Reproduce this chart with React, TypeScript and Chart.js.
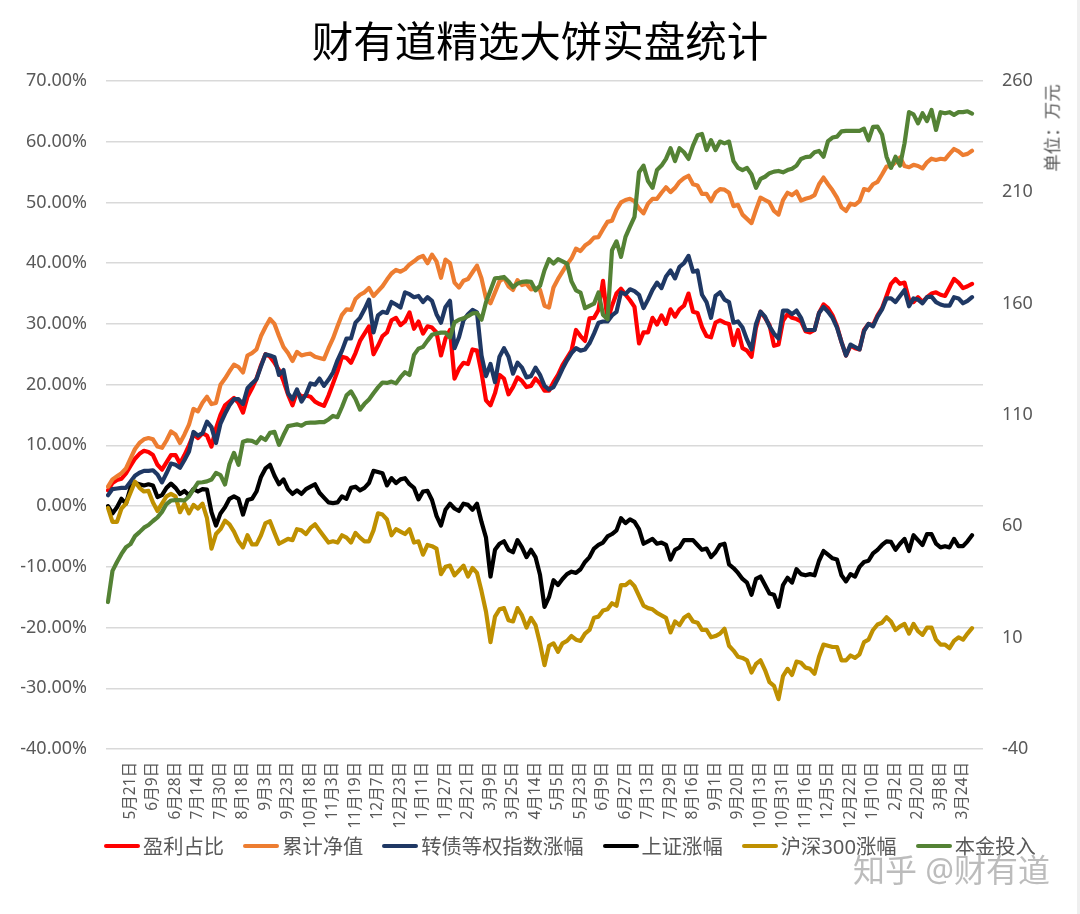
import React, { useEffect, useRef } from 'react';
import { Chart, registerables } from 'chart.js';

Chart.register(...registerables);

const FONT = '"Noto Sans", "Noto Sans CJK SC", sans-serif';

const tickLabels = [
  '5月21日', '6月9日', '6月28日', '7月14日', '7月30日', '8月18日', '9月3日', '9月23日',
  '10月18日', '11月3日', '11月19日', '12月7日', '12月23日', '1月11日', '1月27日', '2月21日',
  '3月9日', '3月25日', '4月14日', '5月5日', '5月23日', '6月9日', '6月27日', '7月13日',
  '7月29日', '8月16日', '9月1日', '9月20日', '10月13日', '10月31日', '11月16日', '12月5日',
  '12月22日', '1月10日', '2月2日', '2月20日', '3月8日', '3月24日',
];

const profitShare = [
  2.6, 3.8, 4.3, 4.5, 5.4, 6.6, 7.8, 8.6, 9.1, 8.9,
  8.4, 6.8, 6.0, 7.2, 8.4, 8.4, 7.0, 8.4, 10.0, 11.8,
  11.2, 12.0, 11.6, 9.8, 12.8, 15.0, 16.6, 17.2, 17.8, 17.0,
  15.4, 18.0, 19.4, 21.0, 23.2, 25.0, 24.6, 23.6, 22.4, 20.6,
  18.4, 16.6, 18.8, 18.0, 18.2, 18.0, 17.2, 16.8, 16.5, 18.2,
  20.2, 22.2, 24.6, 24.4, 23.6, 25.2, 27.2, 28.4, 29.6, 25.0,
  26.4, 28.0, 28.6, 30.6, 31.0, 29.8, 30.4, 31.9, 29.2, 30.4,
  28.4, 29.6, 29.4, 28.6, 24.8, 27.6, 29.0, 21.0, 22.6, 23.6,
  23.4, 25.8, 25.6, 22.0, 17.4, 16.6, 18.6, 21.6, 21.0, 18.4,
  19.6, 21.2, 20.6, 19.6, 19.8, 21.0, 20.2, 19.0, 19.0, 20.4,
  21.6, 23.2, 24.4, 25.6, 29.0, 28.0, 27.2, 30.9, 31.0, 32.3,
  37.1, 30.5, 33.0, 35.0, 35.8, 34.8, 33.9, 32.8, 26.8, 28.6,
  28.6, 31.0, 29.9, 31.4, 30.0, 32.4, 31.2, 32.4, 33.0, 35.0,
  32.0, 31.8, 29.5, 28.0, 27.8, 30.2, 30.6, 30.2, 30.0, 26.5,
  29.0, 26.0, 25.6, 24.6, 29.4, 32.0, 31.0, 29.8, 26.4, 26.6,
  30.5, 31.6, 31.0, 30.8, 30.4, 28.8, 28.6, 29.0, 31.8, 33.2,
  32.6, 31.4, 29.6, 27.0, 24.8, 26.4, 26.0, 25.8, 29.0, 30.0,
  29.8, 31.4, 32.6, 34.6, 36.6, 37.4, 36.6, 36.8, 34.0, 33.6,
  34.4, 33.6, 34.4, 35.0, 35.2, 34.8, 34.6, 36.0, 37.4, 36.8,
  35.9, 36.2, 36.6,
];

const netValue = [
  3.2, 4.4, 4.9, 5.4, 6.2, 7.8, 9.4, 10.4, 11.0, 11.2,
  11.0, 9.8, 9.6, 10.8, 12.3, 11.8, 10.4, 11.8, 13.4, 16.0,
  15.6, 17.0, 18.0, 16.8, 17.0, 20.0, 21.0, 22.2, 23.3, 22.9,
  22.0, 24.8, 25.2, 25.8, 28.0, 29.5, 30.8, 30.0, 28.0, 26.2,
  25.2, 23.9, 25.4, 24.8, 25.0, 25.1, 24.6, 24.4, 24.2, 26.0,
  27.6, 29.6, 31.5, 32.4, 32.3, 34.1, 34.8, 35.2, 35.9, 34.6,
  35.4, 36.2, 37.3, 38.3, 38.9, 38.6, 39.0, 39.8, 40.3, 40.9,
  41.2, 40.0, 41.4, 40.3, 37.6, 40.6, 40.0, 36.8, 36.0, 37.1,
  37.4, 38.5, 39.6, 37.5, 34.2, 33.4, 35.2, 37.0, 37.6, 36.2,
  35.6, 37.2, 36.4, 36.6, 35.7, 35.8, 35.6, 33.0, 32.7, 36.0,
  37.4, 38.6, 39.8, 40.8, 42.4, 42.0, 42.9, 43.4, 44.2, 44.3,
  45.6, 46.8, 47.0, 48.8, 50.0, 50.4, 50.6, 50.2, 49.0, 48.2,
  49.8, 50.6, 50.6, 51.6, 52.5, 51.7, 52.4, 53.4, 54.0, 54.4,
  53.0, 52.8, 51.4, 51.4, 50.2, 51.6, 52.2, 52.1, 51.6, 49.4,
  49.6, 48.0, 47.3, 46.6, 48.8, 50.8, 50.4, 50.0, 48.6, 48.0,
  50.4, 51.6, 51.2, 51.8, 50.3, 50.6, 50.8, 51.2, 53.0, 54.1,
  53.0, 52.0, 50.8, 49.2, 48.6, 49.8, 49.6, 50.2, 52.2, 52.0,
  53.0, 53.4, 54.6, 55.9, 56.0, 56.6, 57.4, 56.0, 55.8, 56.2,
  56.0, 55.6, 56.6, 57.2, 57.0, 57.2, 57.1, 58.0, 58.8, 58.4,
  57.8, 58.0, 58.5,
];

const bondIndex = [
  1.8, 2.8, 2.9, 3.0, 3.0, 4.0, 5.0, 5.5, 5.8, 5.8,
  5.9, 5.2, 3.9, 5.4, 7.0, 6.8, 6.3, 7.6, 9.0, 12.2,
  11.6, 12.0, 13.9, 13.0, 10.4, 13.6, 15.2, 16.6, 17.6, 17.6,
  16.8, 19.4, 20.2, 20.9, 23.0, 25.0, 24.8, 24.5, 21.6, 22.4,
  18.6, 17.6, 19.2, 17.2, 18.4, 20.2, 20.0, 21.0, 19.8, 20.8,
  22.0, 24.0, 25.6, 27.6, 27.6, 30.2, 31.0, 32.4, 34.0, 28.6,
  31.4, 32.0, 31.8, 33.6, 33.2, 32.7, 35.2, 34.9, 34.4, 34.6,
  33.6, 34.4, 33.8, 31.6, 30.2, 32.8, 33.8, 26.0, 27.8, 30.6,
  31.6, 32.3, 31.9, 24.8, 21.4, 23.4, 20.4, 24.6, 26.0, 24.6,
  21.8, 23.6, 22.8, 21.2, 21.4, 22.8, 21.6, 19.8, 19.2, 19.6,
  21.0, 22.6, 24.0, 25.2, 26.0, 25.6, 25.8, 26.8, 28.4, 30.2,
  30.4, 30.4, 31.4, 32.0, 35.2, 34.9, 35.7, 35.4, 34.8, 32.6,
  34.0, 35.6, 36.8, 35.9, 37.8, 38.8, 37.5, 39.4, 40.0, 41.2,
  38.6, 38.8, 34.8, 33.6, 31.0, 34.6, 35.2, 34.0, 33.6, 30.2,
  30.4, 29.4, 27.4, 25.8, 30.0, 32.0, 31.2, 29.6, 28.4, 27.6,
  32.2, 32.2, 31.6, 32.2, 31.0, 29.0, 29.0, 29.0, 31.8, 32.8,
  32.0, 31.0, 29.4, 27.0, 24.8, 26.6, 26.2, 25.8, 28.8, 30.0,
  29.6, 31.2, 32.4, 34.2, 34.2, 33.6, 34.6, 35.6, 32.9, 34.2,
  34.0, 33.4, 34.4, 34.5, 33.6, 33.2, 33.0, 33.0, 34.4, 34.2,
  33.4, 33.8, 34.4,
];

const shanghai = [
  0.0, -1.2, -0.2, 1.2, 0.4, 3.0, 3.8, 3.6, 3.4, 3.6,
  3.4, 1.5, 1.8, 3.0, 3.7, 3.0, 2.0, 2.5, 1.8, 2.8,
  2.4, 2.8, 2.7, -1.0, -3.2, -1.2, -0.2, 1.2, 1.6, 1.2,
  -1.4, 1.0, 1.2, 2.4, 4.8, 6.2, 6.8, 5.0, 3.6, 4.4,
  2.8, 2.0, 2.6, 2.0, 2.8, 3.2, 3.6, 2.2, 1.4, 0.6,
  0.5, 0.6, 1.6, 1.2, 3.0, 3.2, 2.6, 3.0, 3.8, 5.8,
  5.6, 5.4, 3.4, 4.6, 3.8, 4.4, 4.6, 3.6, 3.0, 1.1,
  2.4, 2.5, 1.0, -1.6, -3.2, -0.6, 0.4, -0.4, -0.8, 0.4,
  0.2, -0.6, 0.4, -2.6, -5.2, -11.6, -7.2, -6.2, -5.8, -7.2,
  -7.6, -5.6, -6.8, -8.4, -7.2, -8.4, -11.3, -16.6, -15.0, -12.2,
  -13.0, -12.0, -11.2, -10.8, -11.0, -10.4, -9.2, -8.4, -7.0, -6.4,
  -6.0, -5.0, -4.6, -4.0, -2.0, -2.8, -2.2, -2.6, -3.8, -6.2,
  -5.8, -5.4, -6.2, -6.0, -6.4, -8.8, -7.2, -6.8, -5.6, -5.6,
  -5.6, -6.4, -7.2, -7.0, -8.4, -7.6, -6.4, -6.2, -9.6, -10.2,
  -11.0, -12.0, -12.6, -14.6, -12.0, -11.6, -13.0, -14.4, -14.6, -16.6,
  -13.0, -11.8, -12.6, -10.4, -11.2, -11.4, -11.2, -11.4, -9.0, -7.4,
  -8.0, -8.6, -8.8, -11.4, -12.4, -11.2, -11.6, -10.0, -9.2, -9.0,
  -7.8, -7.2, -6.4, -5.8, -5.9, -7.2, -6.2, -5.4, -7.4, -4.8,
  -5.6, -6.4, -4.6, -4.6, -6.2, -6.8, -6.6, -6.8, -5.4, -6.6,
  -6.6, -5.8, -4.8,
];

const csi300 = [
  -0.3, -2.6, -2.6, -0.4, 0.4, 2.2, 4.0, 3.0, 2.4, 2.5,
  0.6, -0.8, 0.4, 1.6, 2.0, 1.6, -1.0, 0.4, -1.2, 0.2,
  -0.4, 0.4, -2.0, -7.0, -4.6, -3.8, -2.4, -3.0, -4.2, -5.8,
  -6.8, -4.8, -6.3, -6.3, -4.8, -2.8, -2.5, -4.4, -6.2, -5.8,
  -5.4, -5.6, -3.8, -4.0, -4.6, -3.6, -3.0, -4.0, -5.0, -6.0,
  -5.8, -6.0, -4.8, -5.2, -6.0, -4.4, -5.2, -5.8, -5.8, -4.0,
  -1.2, -1.4, -2.2, -4.8, -3.8, -4.2, -4.6, -3.8, -6.0, -5.8,
  -8.0, -6.4, -6.6, -7.0, -11.2, -10.0, -9.8, -11.4, -10.6, -9.8,
  -11.6, -10.2, -11.0, -14.0, -17.4, -22.4, -18.2, -17.0, -16.8, -18.8,
  -19.0, -16.8, -18.0, -20.0, -18.4, -19.6, -22.6, -26.2, -23.0, -22.6,
  -24.0, -22.6, -22.2, -21.4, -22.0, -22.2, -21.0, -20.4, -18.4, -18.2,
  -17.2, -17.0, -16.0, -16.4, -13.0, -13.0, -12.4, -13.2, -14.8, -16.4,
  -16.8, -17.0, -17.6, -18.0, -18.4, -20.8, -19.0, -19.6, -18.4, -17.9,
  -19.0, -19.2, -20.4, -20.4, -21.6, -21.4, -21.0, -20.2, -23.0, -23.8,
  -24.8, -25.0, -25.4, -27.4, -26.0, -25.4, -27.0, -29.0, -29.6, -31.8,
  -28.0, -26.8, -27.8, -25.6, -25.8, -26.6, -26.8, -27.6, -24.8, -22.8,
  -23.0, -23.2, -23.2, -25.4, -25.4, -24.6, -25.0, -24.4, -22.4, -22.0,
  -20.4, -19.5, -19.2, -18.3, -19.0, -20.4, -19.8, -19.4, -21.0, -19.4,
  -20.6, -21.2, -20.0, -20.0, -22.0, -22.8, -22.8, -23.4, -22.2, -21.6,
  -22.0, -21.0, -20.1,
];

// 万元, right axis
const principal = [
  26, 40, 44, 47.6, 50.6, 52, 55.6, 57.4, 59.4, 60.6,
  62.4, 64, 66.5, 70, 71.6, 71.8, 71.8, 71.6, 73.4, 76.6,
  79.6, 79.8, 80.2, 81, 84, 83, 78.8, 88, 93, 87.6,
  98, 98.6, 98.4, 97.4, 100, 98.8, 102, 102.4, 96.6, 101,
  105, 105.4, 105.8, 105.2, 106.4, 106.6, 106.6, 106.8, 106.8, 108,
  109.6, 109, 113.6, 118.8, 120.6, 117.2, 112.4, 115, 117, 119.8,
  122.4, 124.6, 124.4, 125, 124.2, 127, 129.2, 128, 137, 139.8,
  140.6, 143.4, 146, 146.6, 147, 147, 144.8, 151.6, 152.8, 153.4,
  154.4, 155.6, 155.8, 152.8, 160.6, 166, 171.4, 171.6, 172, 170,
  167.4, 169, 169.8, 170, 169.8, 166, 168, 175, 180, 178,
  180, 179, 178, 170, 166, 165, 158, 159, 160, 165,
  155, 153, 184, 188, 181, 190, 194.6, 199, 219, 222,
  215, 212, 220, 222, 225, 229.8, 224, 229.8, 228, 225,
  231, 235.6, 236.2, 229, 233.4, 229, 232.8, 232, 232.8, 224,
  221, 220, 221, 218, 212, 216, 217, 218.6, 219.3, 219.6,
  219, 220, 220.6, 222, 225, 225.8, 226, 228, 228.6, 226,
  233, 234.6, 235, 237.4, 237.6, 237.6, 237.6, 237.6, 238.6, 233.4,
  239.4, 239.5, 236, 226, 221, 226, 222, 232, 246, 245,
  241, 245.5, 242, 247, 238, 246, 245.5, 246, 244.8, 246,
  246, 246.4, 245.4,
];

const seriesNames = ['盈利占比', '累计净值', '转债等权指数涨幅', '上证涨幅', '沪深300涨幅', '本金投入'];
const seriesColors = ['#ff0000', '#ed7d31', '#1f3864', '#000000', '#bf9000', '#548235'];
const seriesValues = [profitShare, netValue, bondIndex, shanghai, csi300, principal];

const App: React.FC = () => {
  const canvasRef = useRef<HTMLCanvasElement>(null);

  useEffect(() => {
    if (!canvasRef.current) return;
    const chart = new Chart(canvasRef.current, {
      type: 'line',
      data: {
        datasets: seriesValues.map((values, s) => ({
          label: seriesNames[s],
          data: values.map((v, i) => ({ x: i, y: v })),
          borderColor: seriesColors[s],
          backgroundColor: seriesColors[s],
          borderWidth: 4.2,
          borderJoinStyle: 'round' as const,
          borderCapStyle: 'round' as const,
          pointRadius: 0,
          tension: 0,
          yAxisID: s === 5 ? 'y1' : 'y',
          order: 5 - s,
        })),
      },
      options: {
        responsive: false,
        animation: false,
        devicePixelRatio: 1,
        layout: { padding: 0 },
        plugins: {
          legend: { display: false },
          tooltip: { enabled: false },
          title: {
            display: true,
            text: '财有道精选大饼实盘统计',
            color: '#000000',
            font: { family: FONT, size: 41.5, weight: 'normal', lineHeight: 1.2 },
            padding: { top: 20, bottom: 11.2 },
          },
        },
        scales: {
          x: {
            type: 'linear',
            min: -0.44,
            max: 194.44,
            grid: { display: false },
            border: { display: false },
            afterBuildTicks: (axis: any) => {
              axis.ticks = tickLabels.map((_, k) => ({ value: (k + 1) * 5 }));
            },
            afterFit: (axis: any) => {
              axis.height = 165;
            },
            ticks: {
              autoSkip: false,
              minRotation: 90,
              maxRotation: 90,
              padding: 5,
              color: '#595959',
              font: { family: FONT, size: 15.5 },
              callback: (v: any) => tickLabels[Number(v) / 5 - 1],
            },
          },
          y: {
            position: 'left',
            min: -40,
            max: 70,
            grid: { color: '#d9d9d9', lineWidth: 1.5, drawTicks: false },
            border: { display: false },
            afterFit: (axis: any) => {
              axis.width = 106;
            },
            ticks: {
              stepSize: 10,
              padding: 19,
              color: '#595959',
              font: { family: FONT, size: 18 },
              callback: (v: any) => Number(v).toFixed(2) + '%',
            },
          },
          y1: {
            position: 'right',
            min: -40,
            max: 260,
            grid: { display: false, drawTicks: false },
            border: { display: false },
            afterFit: (axis: any) => {
              axis.width = 97;
            },
            ticks: {
              stepSize: 50,
              padding: 19,
              color: '#595959',
              font: { family: FONT, size: 18 },
            },
          },
        },
      },
    });
    return () => chart.destroy();
  }, []);

  return (
    <div style={{ position: 'absolute', left: 0, top: 0, width: 1080, height: 914, background: '#fff', overflow: 'hidden', fontFamily: FONT }}>
      <canvas ref={canvasRef} width={1080} height={914} style={{ display: 'block' }} />
      <div style={{ position: 'absolute', right: 0, top: 0, width: 3, height: 914, background: '#efefef' }} />
      <div style={{ position: 'absolute', left: 1051, top: 128, width: 0, height: 0 }}>
        <div style={{ position: 'absolute', transform: 'translate(-50%, -50%) rotate(-90deg)', whiteSpace: 'nowrap', fontSize: 17.5, color: '#595959' }}>
          单位：万元
        </div>
      </div>
      <div style={{ position: 'absolute', left: 104, top: 831, height: 30, display: 'flex', alignItems: 'center', whiteSpace: 'nowrap' }}>
        {seriesNames.map((name, s) => (
          <div key={name} style={{ display: 'flex', alignItems: 'center', marginRight: 19 }}>
            <span style={{ width: 36, height: 4.5, borderRadius: 2, background: seriesColors[s], marginRight: 3 }} />
            <span style={{ fontSize: 20.3, lineHeight: '30px', color: '#595959' }}>{name}</span>
          </div>
        ))}
      </div>
      <div style={{ position: 'absolute', left: 853, top: 850, whiteSpace: 'nowrap', fontSize: 32, lineHeight: '40px', color: '#bcbcbc', textShadow: '0 0 2px #fff' }}>
        知乎 @财有道
      </div>
    </div>
  );
};

export default App;
